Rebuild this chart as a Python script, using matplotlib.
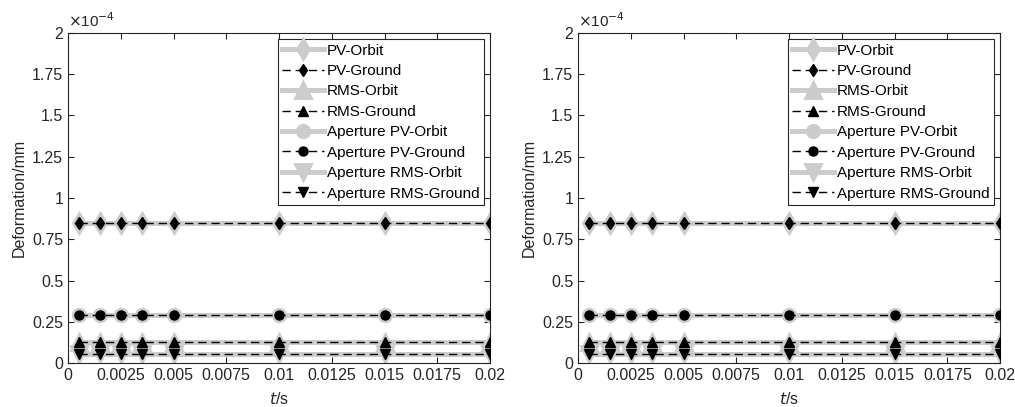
import matplotlib.pyplot as plt
from matplotlib.ticker import FuncFormatter

plt.rcParams['font.family'] = ['Liberation Sans', 'DejaVu Sans']

# time samples (s)
t = [0.0005, 0.0015, 0.0025, 0.0035, 0.005, 0.01, 0.015, 0.02]

# deformation values (mm), constant over time
pv_orbit = [0.848e-4] * 8
pv_ground = [0.848e-4] * 8
rms_orbit = [0.125e-4] * 8
rms_ground = [0.125e-4] * 8
ap_pv_orbit = [0.290e-4] * 8
ap_pv_ground = [0.290e-4] * 8
ap_rms_orbit = [0.055e-4] * 8
ap_rms_ground = [0.055e-4] * 8

series = [
    ('PV-Orbit', pv_orbit, 'd', 'orbit'),
    ('PV-Ground', pv_ground, 'd', 'ground'),
    ('RMS-Orbit', rms_orbit, '^', 'orbit'),
    ('RMS-Ground', rms_ground, '^', 'ground'),
    ('Aperture PV-Orbit', ap_pv_orbit, 'o', 'orbit'),
    ('Aperture PV-Ground', ap_pv_ground, 'o', 'ground'),
    ('Aperture RMS-Orbit', ap_rms_orbit, 'v', 'orbit'),
    ('Aperture RMS-Ground', ap_rms_ground, 'v', 'ground'),
]
orbit_ms = {'d': 10, '^': 11, 'o': 9, 'v': 11}
ground_ms = {'d': 6.5, '^': 7, 'o': 6.5, 'v': 7}

x_ticks = [0, 0.0025, 0.005, 0.0075, 0.01, 0.0125, 0.015, 0.0175, 0.02]
y_ticks = [0, 0.25e-4, 0.5e-4, 0.75e-4, 1e-4, 1.25e-4, 1.5e-4, 1.75e-4, 2e-4]

gray = '#cccccc'
axcol = '#262626'

fig = plt.figure(figsize=(10.15, 4.07), dpi=100)
lefts = [0.067, 0.5695]

for left in lefts:
    ax = fig.add_axes([left, 0.108, 0.4158, 0.811])
    # orbit lines first so ground lines sit on top
    for name, vals, mk, kind in series:
        if kind == 'orbit':
            ax.plot(t, vals, color=gray, lw=3.6, marker=mk, ms=orbit_ms[mk],
                    mfc=gray, mec=gray, mew=2, label=name, zorder=2)
    for name, vals, mk, kind in series:
        if kind == 'ground':
            ax.plot(t, vals, color='black', lw=1.0, ls='--', dashes=(6, 3.5), marker=mk,
                    ms=ground_ms[mk], mfc='black', mec='black', label=name, zorder=3)

    handles, labels = ax.get_legend_handles_labels()
    order = [labels.index(s[0]) for s in series]
    leg = ax.legend([handles[i] for i in order], [labels[i] for i in order],
                    loc='upper right', fontsize=11, handlelength=2.7, handletextpad=0.2,
                    labelspacing=0.42, borderpad=0.3, fancybox=False, framealpha=1,
                    borderaxespad=0.4)
    leg.get_frame().set_edgecolor(axcol)
    leg.get_frame().set_linewidth(0.8)

    ax.set_xlim(0, 0.02)
    ax.set_ylim(0, 2e-4)
    ax.set_xticks(x_ticks)
    ax.set_yticks(y_ticks)
    ax.xaxis.set_major_formatter(FuncFormatter(lambda v, p: f'{v:.5g}'))
    ax.yaxis.set_major_formatter(FuncFormatter(lambda v, p: f'{v * 1e4:g}'))
    ax.tick_params(direction='in', top=True, right=True, labelsize=11.5,
                   colors=axcol, length=4, width=0.8)
    for sp in ax.spines.values():
        sp.set_color(axcol)
        sp.set_linewidth(0.8)
    ax.set_xlabel('$t$/s', fontsize=11.5, color=axcol, labelpad=6)
    ax.set_ylabel('Deformation/mm', fontsize=11.5, color=axcol, labelpad=4)
    ax.text(0.0, 1.008, r'$\times$10$^{-4}$', transform=ax.transAxes, fontsize=11,
            color=axcol, ha='left', va='bottom')

fig.savefig('out.png', dpi=100)
